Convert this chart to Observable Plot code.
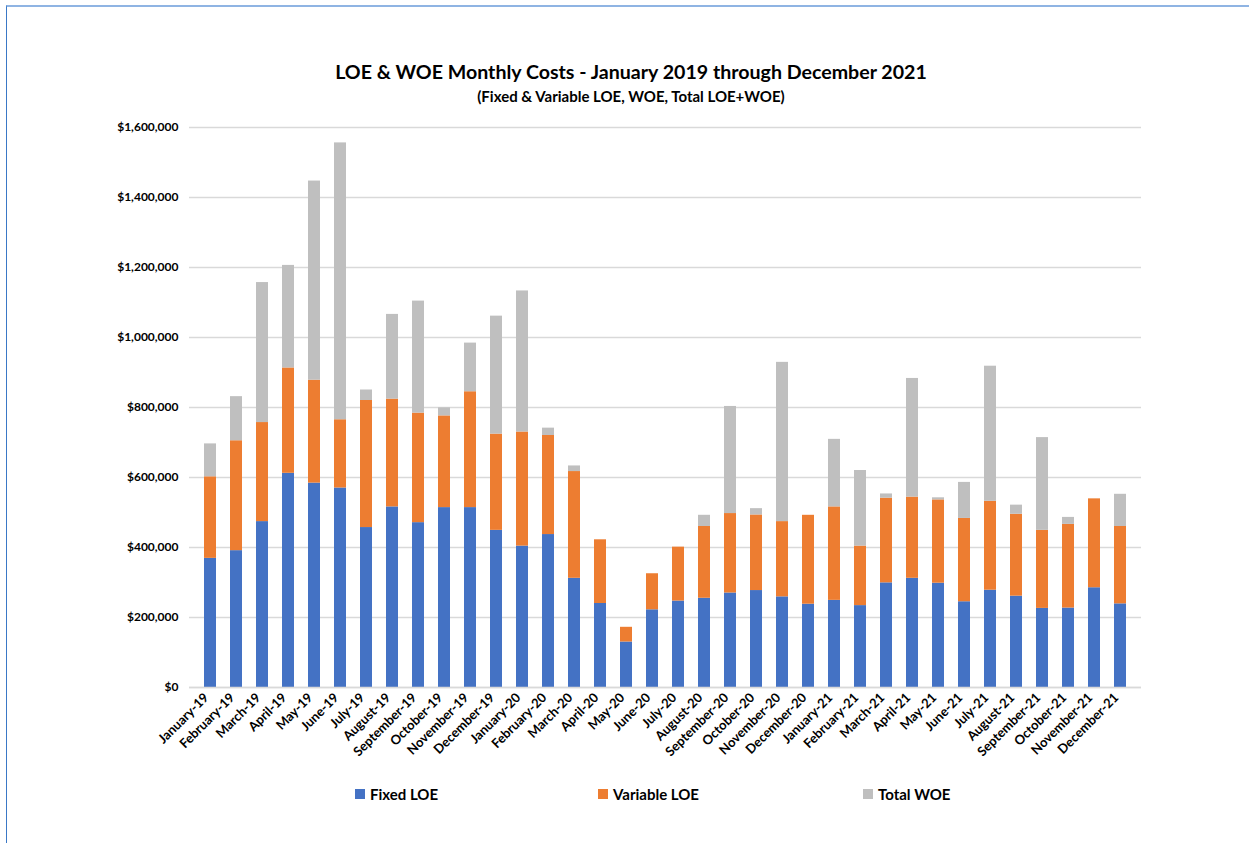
<!DOCTYPE html>
<html>
<head>
<meta charset="utf-8">
<script src="https://cdn.jsdelivr.net/npm/d3@7"></script>
<script src="https://cdn.jsdelivr.net/npm/@observablehq/plot@0.6"></script>
<style>
  html, body { margin: 0; padding: 0; background: #fff; }
  body { width: 1249px; height: 843px; position: relative; overflow: hidden; font-family: Lato, "Open Sans", sans-serif; }
  #frame { position: absolute; left: 6px; top: 5px; width: 1300px; height: 900px; border-top: 2px solid #8fb4e3; border-left: 1px solid #3a78c6; }
  #title { position: absolute; top: 60px; left: 0; width: 1262px; text-align: center; font-size: 19.6px; font-weight: 700; color: #000; }
  #subtitle { position: absolute; top: 87px; left: 0; width: 1262px; text-align: center; font-size: 15px; font-weight: 700; color: #000; }
  #chart { position: absolute; top: 110px; left: 0; }
  .leg { position: absolute; top: 785px; font-size: 15px; font-weight: 700; color: #000; display: flex; align-items: center; }
  .sw { width: 10px; height: 10px; margin-right: 5px; display: inline-block; }
</style>
</head>
<body>
<div id="frame"></div>
<div id="title">LOE &amp; WOE Monthly Costs - January 2019 through December 2021</div>
<div id="subtitle">(Fixed &amp; Variable LOE, WOE, Total LOE+WOE)</div>
<div id="chart"></div>
<div id="legend"></div>
<script>
const months = ["January-19","February-19","March-19","April-19","May-19","June-19","July-19","August-19","September-19","October-19","November-19","December-19",
  "January-20","February-20","March-20","April-20","May-20","June-20","July-20","August-20","September-20","October-20","November-20","December-20",
  "January-21","February-21","March-21","April-21","May-21","June-21","July-21","August-21","September-21","October-21","November-21","December-21"];
const fixedLOE = [369000,391000,474000,612000,584000,570000,457000,516000,471000,514000,514000,449000,
  404000,437000,312000,240000,130000,222000,247000,255000,270000,277000,259000,238000,
  249000,234000,299000,312000,298000,245000,278000,261000,226000,227000,285000,239000];
const variableLOE = [233000,314000,283000,301000,294000,195000,363000,308000,313000,262000,331000,275000,
  326000,283000,305000,182000,42000,103000,154000,205000,227000,216000,215000,254000,
  267000,170000,242000,232000,238000,238000,254000,234000,223000,239000,254000,221000];
const totalWOE = [94000,126000,400000,293000,569000,791000,30000,242000,320000,23000,139000,337000,
  403000,21000,16000,0,0,0,0,32000,306000,18000,455000,0,
  193000,216000,12000,339000,6000,103000,386000,26000,265000,20000,0,92000];
const seriesNames = ["Fixed LOE","Variable LOE","Total WOE"];
const seriesColors = ["#4472c4","#ed7d31","#bfbfbf"];
const yTicks = [0,200000,400000,600000,800000,1000000,1200000,1400000,1600000];

const rows = [];
months.forEach((m, i) => {
  rows.push({month: m, series: seriesNames[0], value: fixedLOE[i]});
  rows.push({month: m, series: seriesNames[1], value: variableLOE[i]});
  rows.push({month: m, series: seriesNames[2], value: totalWOE[i]});
});

const fmt = d => "$" + d3.format(",")(d);

const chart = Plot.plot({
  width: 1249,
  height: 660,
  marginTop: 17,
  marginBottom: 83,
  marginLeft: 189,
  marginRight: 108,
  style: {fontFamily: "Lato, 'Open Sans', sans-serif", fontWeight: 700, fontSize: "12px", color: "#000", background: "transparent"},
  x: {domain: months, padding: 0.52, label: null},
  y: {domain: [0, 1600000], label: null},
  color: {domain: seriesNames, range: seriesColors},
  marks: [
    Plot.gridY(yTicks, {stroke: "#d9d9d9", strokeOpacity: 1, strokeWidth: 1.5}),
    Plot.barY(rows, Plot.stackY({order: seriesNames}, {x: "month", y: "value", fill: "series"})),
    Plot.ruleY([0], {stroke: "#d9d9d9", strokeWidth: 1.5}),
    Plot.axisY(yTicks, {tickSize: 0, tickPadding: 11, tickFormat: fmt, fontSize: 12, fontWeight: 700, label: null}),
    Plot.axisX({tickSize: 0, tickRotate: -45, tickPadding: 8, dx: -4, fontSize: 13, fontWeight: 700, label: null})
  ]
});
document.getElementById("chart").appendChild(chart);

const legendPos = [355, 598, 863];
const legend = document.getElementById("legend");
seriesNames.forEach((name, i) => {
  const d = document.createElement("div");
  d.className = "leg";
  d.style.left = legendPos[i] + "px";
  d.innerHTML = `<span class="sw" style="background:${seriesColors[i]}"></span>${name}`;
  legend.appendChild(d);
});
</script>
</body>
</html>
